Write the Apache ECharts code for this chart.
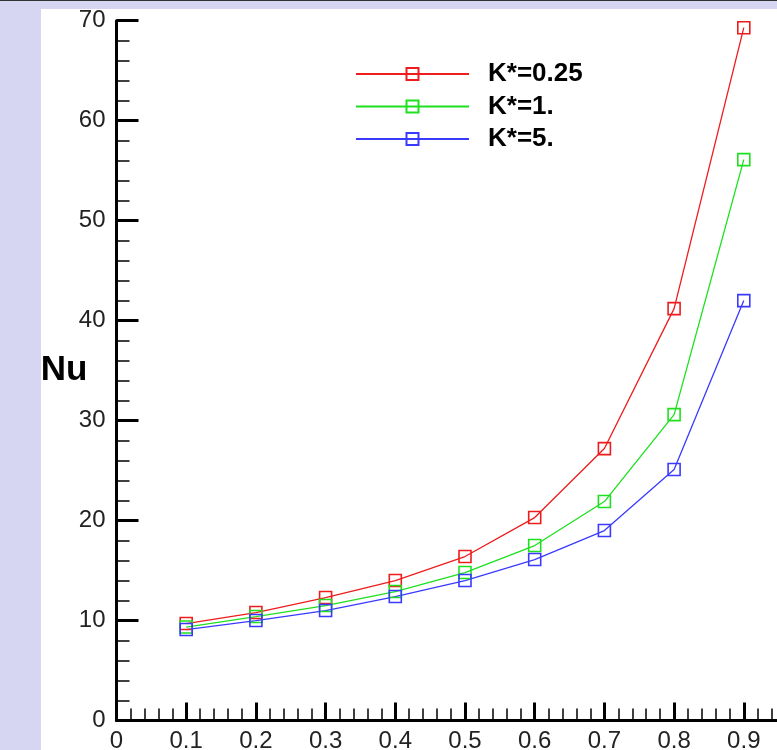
<!DOCTYPE html>
<html>
<head>
<meta charset="utf-8">
<script src="https://cdn.jsdelivr.net/npm/echarts@6/dist/echarts.min.js"></script>
<style>
  html, body { margin: 0; padding: 0; }
  body { width: 777px; height: 750px; background: #d6d6f2; position: relative; overflow: hidden; }
  #topline { position: absolute; left: 0; top: 0; width: 777px; height: 1px; background: #333; }
  #paper { position: absolute; left: 41px; top: 9px; right: 0; bottom: 0; background: #fff; }
  #main { position: absolute; left: 0; top: 0; width: 777px; height: 750px; }
</style>
</head>
<body>
<div id="topline"></div>
<div id="paper"></div>
<div id="main"></div>
<script>
    // 数据
    var xValues = [0.1, 0.2, 0.3, 0.4, 0.5, 0.6, 0.7, 0.8, 0.9];
    var nuK025 = [9.7, 10.8, 12.3, 14.0, 16.4, 20.3, 27.2, 41.2, 69.3];
    var nuK1 = [9.35, 10.4, 11.5, 12.9, 14.8, 17.5, 21.9, 30.6, 56.1];
    var nuK5 = [9.1, 10.0, 11.0, 12.4, 14.0, 16.1, 19.0, 25.1, 42.0];
    var seriesNames = ['K*=0.25', 'K*=1.', 'K*=5.'];
    var seriesColors = ['#ee1c1c', '#1ee01e', '#3a3aff'];

    var sans = '"Liberation Sans", Arial, sans-serif';

    function pairs(ys) {
        return xValues.map(function (x, i) { return [x, ys[i]]; });
    }

    function makeSeries(name, ys, color) {
        return {
            name: name,
            type: 'line',
            data: pairs(ys),
            symbol: 'rect',
            symbolSize: 12,
            lineStyle: { color: color, width: 1.3 },
            itemStyle: { color: 'rgba(0,0,0,0)', borderColor: color, borderWidth: 1.6 },
            emphasis: { disabled: true }
        };
    }

    var myChart = echarts.init(document.getElementById('main'));
    var option = {
        animation: false,
        backgroundColor: 'transparent',
        grid: {
            left: 116.5, top: 20.7, width: 697, height: 699.8,
            containLabel: false,
            outerBoundsMode: 'none'
        },
        legend: {
            orient: 'vertical',
            left: 350,
            top: 56,
            itemWidth: 113,
            itemHeight: 15,
            itemGap: 6.5,
            data: seriesNames,
            textStyle: {
                fontFamily: sans,
                fontWeight: 'bold',
                fontSize: 26,
                color: '#000',
                padding: [0, 0, 0, 14]
            }
        },
        xAxis: {
            type: 'value',
            min: 0,
            max: 1,
            interval: 0.1,
            splitLine: { show: false },
            axisLine: { lineStyle: { color: '#000', width: 3 } },
            axisTick: { inside: true, length: 18, lineStyle: { color: '#000', width: 3 } },
            minorTick: { show: true, splitNumber: 5, length: 12, lineStyle: { color: '#000', width: 1.5 } },
            axisLabel: { margin: 9, fontFamily: sans, fontSize: 24, color: '#222' }
        },
        yAxis: {
            type: 'value',
            min: 0,
            max: 70,
            interval: 10,
            name: 'Nu',
            nameLocation: 'middle',
            nameRotate: 0,
            nameGap: 29,
            nameMoveOverlap: false,
            nameTextStyle: { fontFamily: sans, fontWeight: 'bold', fontSize: 35, color: '#000' },
            splitLine: { show: false },
            axisLine: { lineStyle: { color: '#000', width: 3 } },
            axisTick: { inside: true, length: 22, lineStyle: { color: '#000', width: 3 } },
            minorTick: { show: true, splitNumber: 5, length: 13, lineStyle: { color: '#000', width: 1.5 } },
            axisLabel: { margin: 11, fontFamily: sans, fontSize: 24, color: '#222' }
        },
        series: [
            makeSeries(seriesNames[0], nuK025, seriesColors[0]),
            makeSeries(seriesNames[1], nuK1, seriesColors[1]),
            makeSeries(seriesNames[2], nuK5, seriesColors[2])
        ]
    };
    myChart.setOption(option);
</script>
</body>
</html>
